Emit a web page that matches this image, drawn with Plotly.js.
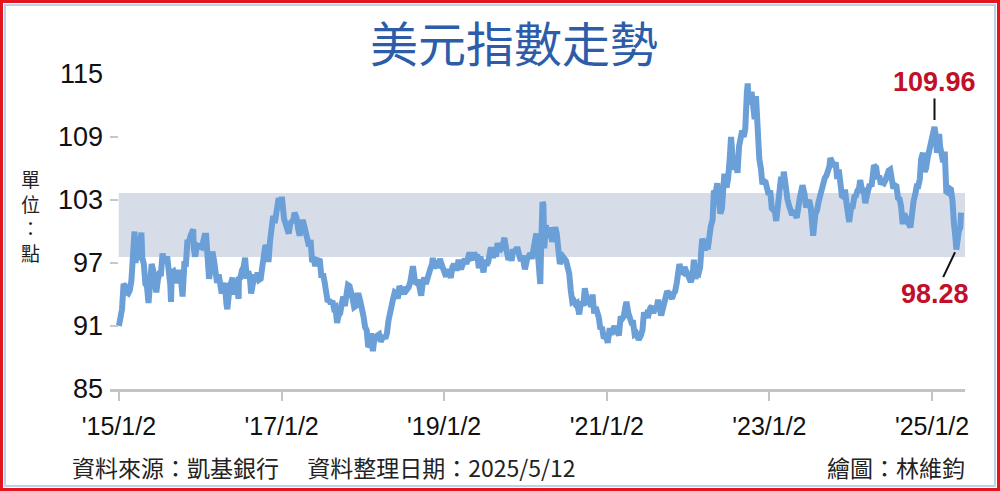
<!DOCTYPE html>
<html>
<head>
<meta charset="utf-8">
<script src="https://cdn.plot.ly/plotly-3.0.1.min.js"></script>
<style>
html,body{margin:0;padding:0;background:#fff;}
#wrap{position:relative;width:1000px;height:491px;overflow:hidden;}
#chart{position:absolute;left:0;top:0;width:1000px;height:491px;}
#outer{position:absolute;left:0;top:0;width:1000px;height:491px;box-sizing:border-box;border:3px solid #e3141b;pointer-events:none;}
#inner{position:absolute;left:4px;top:4px;width:992px;height:483px;box-sizing:border-box;border:2px solid #bcd2ea;pointer-events:none;}
</style>
</head>
<body>
<div id="wrap">
<div id="chart"></div>
<div id="outer"></div>
<div id="inner"></div>
</div>
<script>
// ---- data ----
const titleText = "美元指數走勢";
const unitChars = ["單", "位", "：", "點"];
const sourceText = "資料來源：凱基銀行　 資料整理日期：2025/5/12";
const creditText = "繪圖：林維鈞";

const dates = [
"2015-01-02","2015-01-09","2015-01-16","2015-01-23","2015-01-30","2015-02-06","2015-02-13","2015-02-20","2015-02-27","2015-03-06","2015-03-13","2015-03-18","2015-03-20","2015-03-27","2015-04-03","2015-04-10","2015-04-13","2015-04-17","2015-04-24","2015-05-01","2015-05-08","2015-05-15","2015-05-22","2015-05-29","2015-06-05","2015-06-12","2015-06-19","2015-06-26","2015-07-03","2015-07-10","2015-07-17","2015-07-24","2015-07-31","2015-08-07","2015-08-14","2015-08-21","2015-08-24","2015-08-28","2015-09-04","2015-09-11","2015-09-18","2015-09-25","2015-10-02","2015-10-09","2015-10-15","2015-10-23","2015-10-30","2015-11-06","2015-11-13","2015-11-20","2015-11-27","2015-12-02","2015-12-04","2015-12-11","2015-12-18","2015-12-31",
"2016-01-08","2016-01-15","2016-01-22","2016-01-29","2016-02-05","2016-02-11","2016-02-19","2016-02-26","2016-03-04","2016-03-11","2016-03-18","2016-03-25","2016-04-01","2016-04-08","2016-04-15","2016-04-22","2016-04-29","2016-05-03","2016-05-13","2016-05-20","2016-05-27","2016-06-03","2016-06-10","2016-06-17","2016-06-23","2016-06-24","2016-07-01","2016-07-08","2016-07-15","2016-07-22","2016-07-29","2016-08-05","2016-08-12","2016-08-18","2016-08-26","2016-09-02","2016-09-09","2016-09-16","2016-09-23","2016-09-30","2016-10-07","2016-10-14","2016-10-21","2016-10-28","2016-11-04","2016-11-11","2016-11-18","2016-11-25","2016-12-02","2016-12-09","2016-12-16","2016-12-20","2016-12-30",
"2017-01-03","2017-01-13","2017-01-20","2017-01-27","2017-02-03","2017-02-10","2017-02-17","2017-02-24","2017-03-01","2017-03-10","2017-03-17","2017-03-24","2017-03-31","2017-04-07","2017-04-14","2017-04-21","2017-04-28","2017-05-05","2017-05-12","2017-05-19","2017-05-26","2017-06-02","2017-06-09","2017-06-16","2017-06-23","2017-06-30","2017-07-07","2017-07-14","2017-07-21","2017-07-28","2017-08-04","2017-08-11","2017-08-18","2017-08-25","2017-09-01","2017-09-08","2017-09-15","2017-09-22","2017-09-29","2017-10-06","2017-10-13","2017-10-20","2017-10-27","2017-11-03","2017-11-10","2017-11-17","2017-11-24","2017-12-01","2017-12-08","2017-12-15","2017-12-22","2017-12-29",
"2018-01-05","2018-01-12","2018-01-19","2018-01-26","2018-02-02","2018-02-09","2018-02-16","2018-02-23","2018-03-02","2018-03-09","2018-03-16","2018-03-23","2018-03-30","2018-04-06","2018-04-13","2018-04-20","2018-04-27","2018-05-04","2018-05-11","2018-05-18","2018-05-25","2018-06-01","2018-06-08","2018-06-15","2018-06-22","2018-06-29","2018-07-06","2018-07-13","2018-07-20","2018-07-27","2018-08-03","2018-08-10","2018-08-15","2018-08-24","2018-08-31","2018-09-07","2018-09-14","2018-09-21","2018-09-28","2018-10-05","2018-10-12","2018-10-19","2018-10-26","2018-11-02","2018-11-09","2018-11-12","2018-11-16","2018-11-23","2018-11-30","2018-12-07","2018-12-14","2018-12-21","2018-12-31",
"2019-01-04","2019-01-11","2019-01-18","2019-01-25","2019-02-01","2019-02-08","2019-02-15","2019-02-22","2019-03-01","2019-03-08","2019-03-15","2019-03-22","2019-03-29","2019-04-05","2019-04-12","2019-04-19","2019-04-26","2019-05-03","2019-05-10","2019-05-17","2019-05-24","2019-05-31","2019-06-07","2019-06-14","2019-06-21","2019-06-28","2019-07-05","2019-07-12","2019-07-19","2019-07-26","2019-07-31","2019-08-09","2019-08-16","2019-08-23","2019-08-30","2019-09-06","2019-09-13","2019-09-20","2019-09-30","2019-10-04","2019-10-11","2019-10-18","2019-10-25","2019-11-01","2019-11-08","2019-11-15","2019-11-22","2019-11-29","2019-12-06","2019-12-13","2019-12-20","2019-12-31",
"2020-01-10","2020-01-17","2020-01-24","2020-01-31","2020-02-07","2020-02-14","2020-02-20","2020-02-28","2020-03-06","2020-03-09","2020-03-13","2020-03-19","2020-03-23","2020-03-27","2020-04-03","2020-04-10","2020-04-17","2020-04-24","2020-05-01","2020-05-08","2020-05-15","2020-05-22","2020-05-29","2020-06-05","2020-06-12","2020-06-19","2020-06-26","2020-07-03","2020-07-10","2020-07-17","2020-07-24","2020-07-31","2020-08-07","2020-08-14","2020-08-21","2020-08-31","2020-09-04","2020-09-11","2020-09-18","2020-09-25","2020-10-02","2020-10-09","2020-10-16","2020-10-23","2020-10-30","2020-11-06","2020-11-13","2020-11-20","2020-11-27","2020-12-04","2020-12-11","2020-12-18","2020-12-31",
"2021-01-06","2021-01-15","2021-01-22","2021-01-29","2021-02-05","2021-02-12","2021-02-19","2021-02-25","2021-03-05","2021-03-12","2021-03-19","2021-03-26","2021-03-31","2021-04-09","2021-04-16","2021-04-23","2021-04-30","2021-05-07","2021-05-14","2021-05-21","2021-05-25","2021-06-04","2021-06-11","2021-06-18","2021-06-25","2021-07-02","2021-07-09","2021-07-16","2021-07-23","2021-07-30","2021-08-06","2021-08-13","2021-08-20","2021-08-27","2021-09-03","2021-09-10","2021-09-17","2021-09-24","2021-09-30","2021-10-08","2021-10-15","2021-10-22","2021-10-29","2021-11-05","2021-11-12","2021-11-19","2021-11-24","2021-12-03","2021-12-10","2021-12-17","2021-12-31",
"2022-01-07","2022-01-14","2022-01-21","2022-01-28","2022-02-04","2022-02-11","2022-02-18","2022-02-25","2022-03-04","2022-03-07","2022-03-11","2022-03-18","2022-03-25","2022-03-31","2022-04-08","2022-04-14","2022-04-22","2022-04-28","2022-05-06","2022-05-13","2022-05-20","2022-05-27","2022-06-03","2022-06-10","2022-06-14","2022-06-24","2022-07-01","2022-07-08","2022-07-14","2022-07-22","2022-07-29","2022-08-05","2022-08-12","2022-08-19","2022-08-26","2022-09-02","2022-09-09","2022-09-16","2022-09-23","2022-09-27","2022-09-30","2022-10-07","2022-10-14","2022-10-21","2022-10-28","2022-11-03","2022-11-10","2022-11-18","2022-11-25","2022-12-02","2022-12-09","2022-12-16","2022-12-30",
"2023-01-06","2023-01-13","2023-01-20","2023-01-27","2023-02-02","2023-02-10","2023-02-17","2023-02-24","2023-03-03","2023-03-08","2023-03-17","2023-03-24","2023-03-31","2023-04-06","2023-04-14","2023-04-21","2023-04-28","2023-05-05","2023-05-12","2023-05-19","2023-05-31","2023-06-09","2023-06-16","2023-06-23","2023-06-30","2023-07-07","2023-07-14","2023-07-18","2023-07-28","2023-08-04","2023-08-11","2023-08-18","2023-08-25","2023-09-01","2023-09-08","2023-09-15","2023-09-22","2023-09-29","2023-10-03","2023-10-13","2023-10-20","2023-10-27","2023-11-03","2023-11-10","2023-11-17","2023-11-24","2023-12-01","2023-12-08","2023-12-15","2023-12-27","2023-12-29",
"2024-01-05","2024-01-12","2024-01-19","2024-01-26","2024-02-02","2024-02-09","2024-02-14","2024-02-23","2024-03-01","2024-03-08","2024-03-15","2024-03-22","2024-03-28","2024-04-05","2024-04-12","2024-04-16","2024-04-26","2024-05-03","2024-05-10","2024-05-17","2024-05-24","2024-05-31","2024-06-07","2024-06-14","2024-06-21","2024-06-28","2024-07-05","2024-07-12","2024-07-19","2024-07-26","2024-08-02","2024-08-09","2024-08-16","2024-08-23","2024-08-30","2024-09-06","2024-09-13","2024-09-20","2024-09-27","2024-10-04","2024-10-11","2024-10-18","2024-10-25","2024-11-01","2024-11-08","2024-11-14","2024-11-22","2024-11-29","2024-12-06","2024-12-13","2024-12-20","2024-12-31",
"2025-01-03","2025-01-10","2025-01-13","2025-01-17","2025-01-24","2025-01-31","2025-02-03","2025-02-07","2025-02-14","2025-02-21","2025-02-28","2025-03-07","2025-03-14","2025-03-21","2025-03-28","2025-04-04","2025-04-10","2025-04-11","2025-04-17","2025-04-21","2025-04-25","2025-05-02","2025-05-09","2025-05-12"
];

const dxy = [
91.0,92.0,92.6,95.0,94.8,94.2,94.1,94.4,95.3,97.6,100.0,97.0,97.9,97.3,98.2,99.6,99.9,97.5,96.9,95.0,94.8,93.2,96.0,96.9,96.3,95.2,94.2,95.4,96.0,96.0,97.9,97.2,97.3,97.6,96.5,94.9,93.3,96.1,96.2,95.2,95.1,96.1,96.1,95.2,93.8,96.9,96.9,99.2,99.0,99.6,100.0,100.2,98.4,97.6,98.7,98.6,
98.5,99.0,99.6,99.6,97.0,95.5,96.6,98.1,97.3,96.2,95.1,95.9,94.6,94.1,94.7,95.1,93.1,92.6,94.6,95.3,95.6,94.0,94.6,94.2,93.6,95.5,95.6,96.3,96.6,97.5,95.5,96.2,95.7,94.1,95.5,95.9,95.2,96.1,95.4,95.5,96.6,98.0,98.7,98.4,97.1,99.1,101.2,101.5,100.8,101.6,102.9,103.2,102.2,
103.3,101.2,100.7,100.6,99.8,100.8,101.0,101.1,101.8,101.3,100.3,99.6,100.4,101.1,100.5,99.8,99.1,98.6,99.2,97.1,97.4,96.7,97.3,97.2,97.2,95.6,96.0,95.2,94.0,93.3,93.5,93.1,93.4,92.7,92.8,91.3,92.0,92.2,93.1,93.8,92.9,93.7,94.9,94.8,94.4,93.6,92.8,92.9,93.9,93.9,93.3,92.1,
91.9,90.9,90.6,89.0,89.2,90.3,88.6,89.9,89.9,90.1,90.2,89.5,90.0,90.1,89.8,90.3,91.5,92.5,92.6,93.6,94.2,94.1,93.6,94.8,94.5,94.5,94.0,94.7,94.5,94.7,95.2,96.1,96.7,95.2,95.1,95.4,94.9,93.9,95.1,95.6,95.0,95.7,96.4,96.5,96.9,97.5,96.5,96.9,97.2,96.5,97.4,96.9,96.2,
96.2,95.7,96.4,95.8,95.6,96.6,96.9,96.5,96.5,97.3,96.6,96.6,97.3,97.4,96.9,97.4,98.0,97.5,97.3,98.0,97.6,97.8,96.5,97.6,96.2,96.1,97.3,96.8,97.1,98.0,98.5,97.5,98.1,97.6,98.9,98.4,98.3,98.5,99.4,98.8,98.3,97.3,97.8,97.2,98.3,98.0,98.3,98.3,97.7,97.2,97.7,96.4,
97.4,97.6,97.9,97.4,98.7,99.1,99.8,98.1,96.0,95.0,98.7,102.8,102.6,98.4,100.6,99.5,99.7,100.4,99.0,99.7,100.4,99.8,98.3,96.9,97.3,97.6,97.4,97.2,96.6,96.0,94.4,93.3,93.4,93.1,93.2,92.1,92.8,93.3,92.9,94.6,93.8,93.0,93.7,92.8,94.0,92.2,92.8,92.4,91.8,90.7,90.9,90.0,89.9,
89.4,90.8,90.2,90.6,91.0,90.5,90.4,90.1,91.9,91.7,91.9,92.8,93.3,92.2,91.6,91.3,91.3,90.2,90.3,90.0,89.7,90.1,90.6,92.3,91.8,92.2,92.1,92.7,92.9,92.2,92.8,92.5,93.5,92.7,92.0,92.6,93.2,93.3,94.3,94.1,93.9,93.6,94.1,94.3,95.1,96.0,96.9,96.2,96.1,96.6,95.7,
95.7,95.2,95.6,97.3,95.5,96.1,96.0,96.6,98.7,99.3,99.1,98.2,98.8,98.3,99.8,100.5,101.1,103.9,103.7,104.6,103.0,101.7,102.2,104.2,105.5,104.2,105.1,106.9,109.0,106.7,105.9,106.6,105.6,108.1,108.8,109.6,109.0,109.8,113.2,114.1,112.1,112.8,113.3,112.0,110.7,112.9,108.2,106.9,106.0,104.5,104.8,104.7,103.5,
103.9,102.2,102.0,101.9,101.0,103.6,103.9,105.2,104.5,105.7,103.9,103.1,102.5,102.1,101.6,101.8,101.7,101.3,102.7,103.2,104.4,103.6,102.3,102.9,103.0,102.3,99.9,99.6,101.7,102.0,102.8,103.4,104.2,104.3,105.1,105.3,105.6,106.2,107.0,106.6,106.2,106.6,105.0,105.9,103.9,103.4,103.3,104.0,102.6,100.9,101.3,
102.4,102.4,103.3,103.4,103.9,104.1,104.9,103.9,103.9,102.7,103.4,104.4,104.5,104.3,106.0,106.3,106.1,105.0,105.3,104.5,104.7,104.6,104.9,105.5,105.8,105.9,104.9,104.1,104.4,104.3,103.2,103.1,102.4,100.7,101.7,101.2,101.1,100.7,100.4,102.5,102.9,103.5,104.3,104.3,105.0,106.9,107.5,105.7,106.0,107.0,107.8,108.5,
108.9,109.6,109.96,109.4,107.5,108.4,109.3,108.1,106.7,106.6,107.6,103.8,103.7,104.1,104.0,102.9,100.8,100.1,99.4,98.28,99.6,100.0,100.4,101.8
];

const highPoint = {date: "2025-01-13", value: 109.96, label: "109.96"};
const lowPoint  = {date: "2025-04-21", value: 98.28,  label: "98.28"};

const bandLow = 97.57;
const bandHigh = 103.67;
const bandStart = "2015-01-01";
const bandEnd = "2025-05-31";

const xRange = ["2014-11-23", "2025-05-30"];
const yRange = [85, 115];
const yTicks = [85, 91, 97, 103, 109, 115];
const xTickDates = ["2015-01-02","2017-01-02","2019-01-02","2021-01-02","2023-01-02","2025-01-02"];
const xTickLabels = ["'15/1/2","'17/1/2","'19/1/2","'21/1/2","'23/1/2","'25/1/2"];

// ---- chart ----
const numFont = "Liberation Sans, Arial, sans-serif";
const cjkFont = "Noto Sans CJK TC, Noto Sans CJK SC, sans-serif";

const trace = {
  x: dates, y: dxy, type: "scatter", mode: "lines",
  line: {color: "#6a9fd8", width: 6, shape: "linear"},
  hoverinfo: "skip"
};

const layout = {
  width: 1000, height: 491,
  margin: {l: 110, r: 35, t: 74, b: 102},
  paper_bgcolor: "#ffffff", plot_bgcolor: "#ffffff",
  showlegend: false,
  title: {
    text: titleText,
    x: 0.514, xref: "container", xanchor: "center",
    y: 1 - 45 / 491, yref: "container", yanchor: "middle",
    font: {family: cjkFont, size: 48, color: "#2d5da8", weight: 400}
  },
  xaxis: {
    type: "date", range: xRange,
    tickmode: "array", tickvals: xTickDates, ticktext: xTickLabels,
    showline: true, linecolor: "#c4c4c4", linewidth: 3,
    ticks: "outside", ticklen: 9, tickwidth: 2, tickcolor: "#c4c4c4",
    ticklabelstandoff: 4,
    tickfont: {family: numFont, size: 25, color: "#111"},
    showgrid: false, zeroline: false, fixedrange: true
  },
  yaxis: {
    range: yRange, tickmode: "array", tickvals: yTicks,
    showline: false, ticks: "inside", ticklen: 8, tickwidth: 2, tickcolor: "#c8c8c8",
    ticklabelstandoff: 6,
    tickfont: {family: numFont, size: 27, color: "#111"},
    showgrid: false, zeroline: false, fixedrange: true
  },
  shapes: [{
    type: "rect", layer: "below", xref: "x", yref: "y",
    x0: bandStart, x1: bandEnd, y0: bandLow, y1: bandHigh,
    fillcolor: "#d7dde8", line: {width: 0}
  }],
  annotations: [
    {
      x: highPoint.date, y: highPoint.value, xref: "x", yref: "y",
      text: highPoint.label, showarrow: true, arrowhead: 0, arrowwidth: 2,
      arrowcolor: "#111", ax: 0, ay: -45, standoff: 7,
      font: {family: numFont, size: 27, color: "#c0102a", weight: "bold"}
    },
    {
      x: lowPoint.date, y: lowPoint.value, xref: "x", yref: "y",
      text: lowPoint.label, showarrow: true, arrowhead: 0, arrowwidth: 2,
      arrowcolor: "#111", ax: -21, ay: 44, standoff: 3,
      font: {family: numFont, size: 27, color: "#c0102a", weight: "bold"}
    },
    {
      xref: "paper", yref: "paper", x: (70 - 110) / 855, y: -(467 - 389) / 315,
      xanchor: "left", yanchor: "middle", showarrow: false,
      text: sourceText,
      font: {family: cjkFont, size: 23, color: "#222"}
    },
    {
      xref: "paper", yref: "paper", x: (967 - 110) / 855, y: -(467 - 389) / 315,
      xanchor: "right", yanchor: "middle", showarrow: false,
      text: creditText,
      font: {family: cjkFont, size: 23, color: "#222"}
    },
    {
      xref: "paper", yref: "paper", x: -0.093, y: 1 - (216 - 74) / 315,
      xanchor: "center", yanchor: "middle", showarrow: false,
      text: unitChars.join("<br>"),
      font: {family: cjkFont, size: 19, color: "#222"}
    }
  ]
};

Plotly.newPlot("chart", [trace], layout, {displayModeBar: false, staticPlot: true});
</script>
</body>
</html>
